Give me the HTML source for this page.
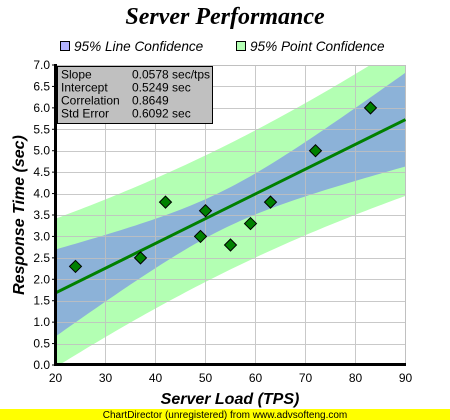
<!DOCTYPE html>
<html><head><meta charset="utf-8"><style>
body{margin:0;width:450px;height:420px;background:#fff;overflow:hidden}
svg{display:block}
</style></head><body>
<svg id="s" width="450" height="420" xmlns="http://www.w3.org/2000/svg" font-family="Liberation Sans, Arial, sans-serif">
<rect width="450" height="420" fill="#fff"/>
<text x="225" y="24" text-anchor="middle" font-family="Liberation Serif, serif" font-style="italic" font-weight="bold" font-size="24">Server Performance</text>
<rect x="60.5" y="41.5" width="9" height="9" fill="#b3b3ff" stroke="#000"/>
<text x="74" y="51" font-style="italic" font-size="13.6">95% Line Confidence</text>
<rect x="236.5" y="41.5" width="9" height="9" fill="#b3ffb3" stroke="#000"/>
<text x="250" y="51" font-style="italic" font-size="13.6">95% Point Confidence</text>
<defs><clipPath id="c"><rect x="56" y="65" width="350" height="300"/></clipPath></defs>
<g id="bands" clip-path="url(#c)"></g>
<g id="grid" stroke="#c0c0c0" stroke-width="1" opacity="0.85"></g>
<rect x="55.5" y="65.5" width="350" height="299" fill="none" stroke="#c0c0c0"/>
<g id="fg" clip-path="url(#c)"></g>
<line x1="55.5" y1="64" x2="55.5" y2="366" stroke="#000" stroke-width="3"/>
<line x1="54" y1="364.5" x2="406" y2="364.5" stroke="#000" stroke-width="3"/>
<g id="labels" font-size="12"></g>
<rect x="57.5" y="66.5" width="155" height="57" fill="#c0c0c0" stroke="#000"/>
<g font-size="12">
<text x="61" y="78.5">Slope</text><text x="132" y="78.5">0.0578 sec/tps</text>
<text x="61" y="91.5">Intercept</text><text x="132" y="91.5">0.5249 sec</text>
<text x="61" y="104.5">Correlation</text><text x="132" y="104.5">0.8649</text>
<text x="61" y="117.5">Std Error</text><text x="132" y="117.5">0.6092 sec</text>
</g>
<text x="230" y="404" text-anchor="middle" font-style="italic" font-weight="bold" font-size="16">Server Load (TPS)</text>
<text transform="translate(24,215) rotate(-90)" text-anchor="middle" font-style="italic" font-weight="bold" font-size="16">Response Time (sec)</text>
<rect x="0" y="409" width="450" height="11" fill="#ffff00"/>
<text x="225" y="418" text-anchor="middle" font-size="10">ChartDirector (unregistered) from www.advsofteng.com</text>
</svg>
<script>
var NS="http://www.w3.org/2000/svg";
function X(v){return 55.5+(v-20)*5}
function Y(v){return 365-v*300/7}
function el(p,t,a){var e=document.createElementNS(NS,t);for(var k in a)e.setAttribute(k,a[k]);p.appendChild(e);return e}
var pts=[[24,2.3],[37,2.5],[42,3.8],[49,3.0],[50,3.6],[55,2.8],[59,3.3],[63,3.8],[72,5.0],[83,6.0]];
var mx=53.4,sxx=2642.7,k=2.306*0.6092;
function f(x){return 0.5249+0.0578*x}
function band(p,col){var up=[],dn=[];for(var x=18;x<=92;x+=1){var h=k*Math.sqrt(p+0.1+(x-mx)*(x-mx)/sxx);up.push(X(x)+","+Y(f(x)+h));dn.unshift(X(x)+","+Y(f(x)-h));}
el(document.getElementById("bands"),"polygon",{points:up.concat(dn).join(" "),fill:col});}
band(1,"#b3ffb3");band(0,"#8cb2d8");
var g=document.getElementById("grid");
for(var v=30;v<=90;v+=10)el(g,"line",{x1:X(v),y1:65,x2:X(v),y2:365});
for(var i=1;i<=14;i++){var y=Math.round(Y(i*0.5))+0.5;el(g,"line",{x1:56,y1:y,x2:406,y2:y});}
var fg=document.getElementById("fg");
el(fg,"line",{x1:X(20),y1:Y(f(20)),x2:X(90),y2:Y(f(90)),stroke:"#008000","stroke-width":3});
pts.forEach(function(p){var x=X(p[0]),y=Y(p[1]);el(fg,"polygon",{points:(x)+","+(y-6)+" "+(x+6)+","+y+" "+x+","+(y+6)+" "+(x-6)+","+y,fill:"#008000",stroke:"#000"});});
var L=document.getElementById("labels");
for(var i=0;i<=14;i++){var t=el(L,"text",{x:50,y:Y(i*0.5)+4,"text-anchor":"end"});t.textContent=(i*0.5).toFixed(1);el(L,"line",{x1:52,y1:Y(i*0.5),x2:56,y2:Y(i*0.5),stroke:"#000"});}
for(var v=20;v<=90;v+=10){var t=el(L,"text",{x:X(v),y:382,"text-anchor":"middle"});t.textContent=v;}
</script>
</body></html>
